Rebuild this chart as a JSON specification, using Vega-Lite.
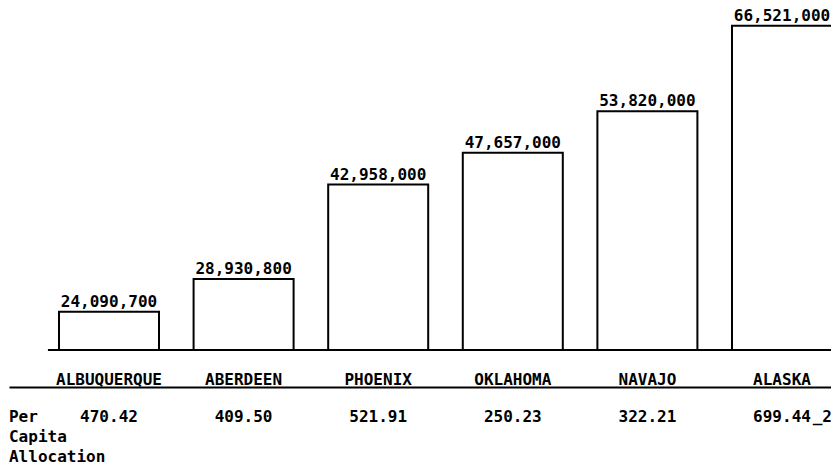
{
  "$schema": "https://vega.github.io/schema/vega-lite/v6.json",
  "padding": {"left": 8, "top": 3, "right": 0, "bottom": 0},
  "spacing": 0,
  "background": "white",
  "config": {
    "view": {"stroke": null},
    "font": "DejaVu Sans Mono",
    "text": {"font": "DejaVu Sans Mono", "fontWeight": "bold", "fontSize": 16, "color": "black"}
  },
  "datasets": {
    "regions": [
      {"region": "ALBUQUERQUE", "appropriation": 24090700, "per_capita": 470.42},
      {"region": "ABERDEEN", "appropriation": 28930800, "per_capita": 409.50},
      {"region": "PHOENIX", "appropriation": 42958000, "per_capita": 521.91},
      {"region": "OKLAHOMA", "appropriation": 47657000, "per_capita": 250.23},
      {"region": "NAVAJO", "appropriation": 53820000, "per_capita": 322.21},
      {"region": "ALASKA", "appropriation": 66521000, "per_capita": 699.44}
    ]
  },
  "vconcat": [
    {
      "width": 823,
      "height": 347,
      "data": {"name": "regions"},
      "encoding": {
        "x": {
          "field": "region",
          "type": "nominal",
          "sort": null,
          "scale": {"type": "band", "paddingInner": 0.257, "paddingOuter": 0.1857, "align": 1},
          "axis": {
            "title": null,
            "domain": false,
            "ticks": false,
            "grid": false,
            "labelAngle": 0,
            "labelPadding": 21,
            "labelFont": "DejaVu Sans Mono",
            "labelFontWeight": "bold",
            "labelFontSize": 16,
            "labelColor": "black"
          }
        }
      },
      "layer": [
        {
          "mark": {"type": "bar", "fill": "white", "stroke": "black", "strokeWidth": 2},
          "encoding": {
            "y": {
              "field": "appropriation",
              "type": "quantitative",
              "scale": {"domain": [18400000, 69900000], "zero": false, "nice": false},
              "axis": null
            },
            "y2": {"datum": 18400000}
          }
        },
        {
          "mark": {"type": "text", "baseline": "alphabetic", "dy": -5},
          "encoding": {
            "y": {"field": "appropriation", "type": "quantitative"},
            "text": {"field": "appropriation", "type": "quantitative", "format": ",d"}
          }
        },
        {
          "mark": {"type": "rule", "stroke": "black", "strokeWidth": 2},
          "encoding": {
            "x": {"datum": "ALBUQUERQUE", "type": "nominal", "bandPosition": -0.11},
            "x2": {"datum": "ALASKA", "bandPosition": 1},
            "y": {"datum": 18400000, "type": "quantitative"}
          }
        }
      ]
    },
    {
      "width": 823,
      "height": 70,
      "data": {"name": "regions"},
      "encoding": {
        "x": {
          "field": "region",
          "type": "nominal",
          "sort": null,
          "scale": {"type": "band", "paddingInner": 0.257, "paddingOuter": 0.1857, "align": 1},
          "axis": {
            "orient": "top",
            "title": null,
            "domain": true,
            "domainColor": "black",
            "domainWidth": 2,
            "labels": false,
            "ticks": false,
            "grid": false
          }
        }
      },
      "layer": [
        {
          "mark": {"type": "text", "baseline": "alphabetic"},
          "encoding": {
            "text": {"field": "per_capita", "type": "quantitative", "format": ".2f"}
          }
        },
        {
          "data": {"values": [{"label": "Per\nCapita\nAllocation"}]},
          "mark": {"type": "text", "align": "left", "baseline": "alphabetic", "lineBreak": "\n", "lineHeight": 20},
          "encoding": {
            "x": {"datum": "ALBUQUERQUE", "type": "nominal", "bandPosition": -0.5},
            "text": {"field": "label", "type": "nominal"}
          }
        },
        {
          "data": {"values": [{"region": "ALASKA", "note": "_2"}]},
          "mark": {"type": "text", "align": "right", "baseline": "alphabetic"},
          "encoding": {
            "x": {"field": "region", "type": "nominal", "bandPosition": 1},
            "text": {"field": "note", "type": "nominal"}
          }
        }
      ]
    }
  ]
}
